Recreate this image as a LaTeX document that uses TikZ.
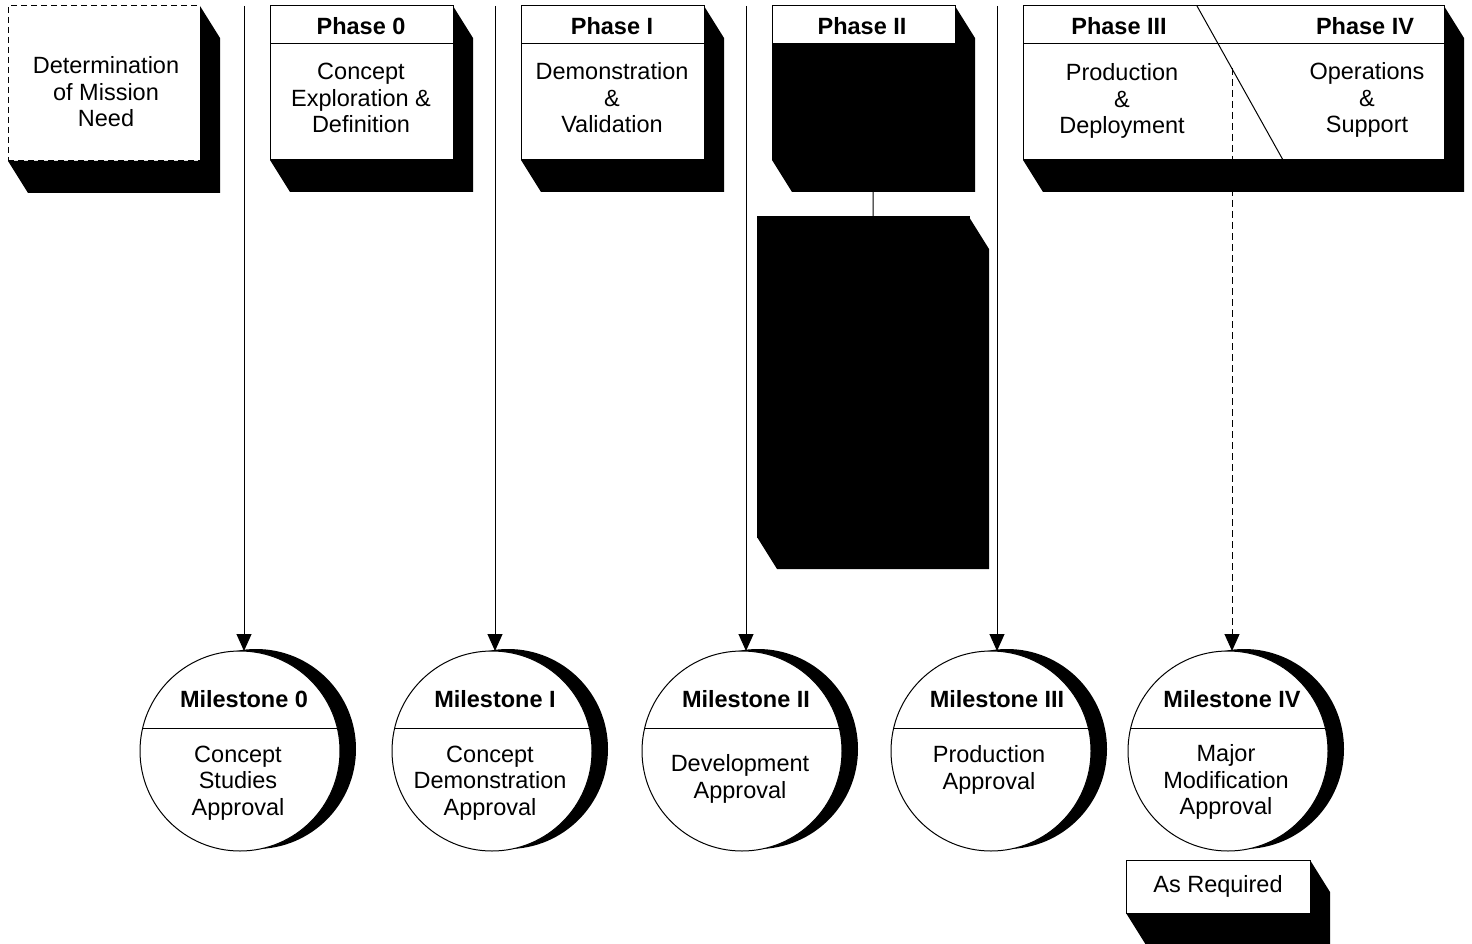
\documentclass[tikz,border=0pt]{standalone}
\usepackage{fontspec}
\setmainfont{Liberation Sans}
\usetikzlibrary{arrows.meta}

\newcommand\phasefont{\fontsize{23.5}{26.5}\selectfont}
% black drop shadow below and right of a box node
\newcommand\dropshadow[1]{\fill (#1.north east) -- ++(20,32) -- ([shift={(20,32)}]#1.south east) -- ([shift={(20,32)}]#1.south west) -- (#1.south west) -- (#1.south east) -- cycle;}

\begin{document}
\begin{tikzpicture}[x=1pt,y=-1pt,line width=1pt,
	box/.style={draw,fill=white,outer sep=0pt,inner sep=0pt,minimum width=183pt,minimum height=154pt,font=\phasefont},
	txt/.style={align=center,inner sep=0pt,font=\phasefont},
	hd/.style={align=center,inner sep=0pt,font=\phasefont\bfseries},
	mile/.style={circle,draw,fill=white,outer sep=0pt,inner sep=0pt,minimum size=200pt},
	link/.style={-{Triangle[length=17pt,width=15pt]}}]
\useasboundingbox (0,0) rectangle (1472,944);

% mission need
\node[box,dash pattern=on 6pt off 4pt,minimum width=192pt,minimum height=155pt] (need) at (104,83.5) {};
\dropshadow{need}
\node[txt] (needtxt) at (106,92) {Determination\\of Mission\\Need};

% phase 0 and phase I
\node[box] (p0) at (361.5,83) {};
\dropshadow{p0}
\draw (p0.west |- 0,44) -- (p0.east |- 0,44);
\node[hd] (p0hd) at (361,26) {Phase 0};
\node[txt] (p0txt) at (361,98) {Concept\\Exploration \&\\Definition};

\node[box] (p1) at (612.5,83) {};
\dropshadow{p1}
\draw (p1.west |- 0,44) -- (p1.east |- 0,44);
\node[hd] (p1hd) at (612,26) {Phase I};
\node[txt] (p1txt) at (612,98) {Demonstration\\\&\\Validation};

% phase II
\node[box,fill=black] (p2) at (863.5,83) {};
\node[box,fill=black,minimum width=212pt,minimum height=320pt] (p2low) at (863,377) {};
\draw ([xshift=10pt]p2.south) -- ([xshift=10pt]p2low.north);
\dropshadow{p2}
\dropshadow{p2low}
\draw[fill=white] (p2.north west) rectangle (p2.east |- 0,44);
\node[hd] (p2hd) at (862,26) {Phase II};

% phase III / IV
\node[box,minimum width=421pt] (p34) at (1233.5,83) {};
\dropshadow{p34}
\draw (p34.west |- 0,44) -- (p34.east |- 0,44);
\draw (1197,6) -- (1283,160);
\node[hd] (p3hd) at (1119,26) {Phase III};
\node[hd] (p4hd) at (1365,26) {Phase IV};
\node[txt] (p3txt) at (1122,101) {Production\\\&\\Deployment};
\node[txt] (p4txt) at (1367,100) {Operations\\\&\\Support};

% milestones
\foreach \n/\cx/\lx/\hdtext/\bdtext/\by in {
	0/240/244/Milestone 0/{Concept\\Studies\\Approval}/783,
	1/492/495/Milestone I/{Concept\\Demonstration\\Approval}/783,
	2/742/746/Milestone II/{Development\\Approval}/779,
	3/991/997/Milestone III/{Production\\Approval}/770,
	4/1228/1232/Milestone IV/{Major\\Modification\\Approval}/782}{
	\fill (\cx+16,749) circle[radius=100pt];
	\node[mile] (m\n) at (\cx,751) {};
	\draw (m\n.167) -- (m\n.13);
	\node[hd] (mh\n) at (\lx,699) {\hdtext};
	\node[txt] (mb\n) at (\cx-2,\by) {\bdtext};
}

\foreach \n/\lx in {0/244,1/495,2/746,3/997}{
	\coordinate (t\n) at (\lx,6);
	\draw[link] (t\n) -- (t\n |- m\n.north);
}
\coordinate (t4) at (1232,68);
\draw[link,dash pattern=on 7pt off 4pt] (t4) -- (t4 |- m4.north);

% as required
\node[box,minimum width=184pt,minimum height=53pt] (req) at (1218,886.5) {As Required};
\dropshadow{req}
\end{tikzpicture}
\end{document}
